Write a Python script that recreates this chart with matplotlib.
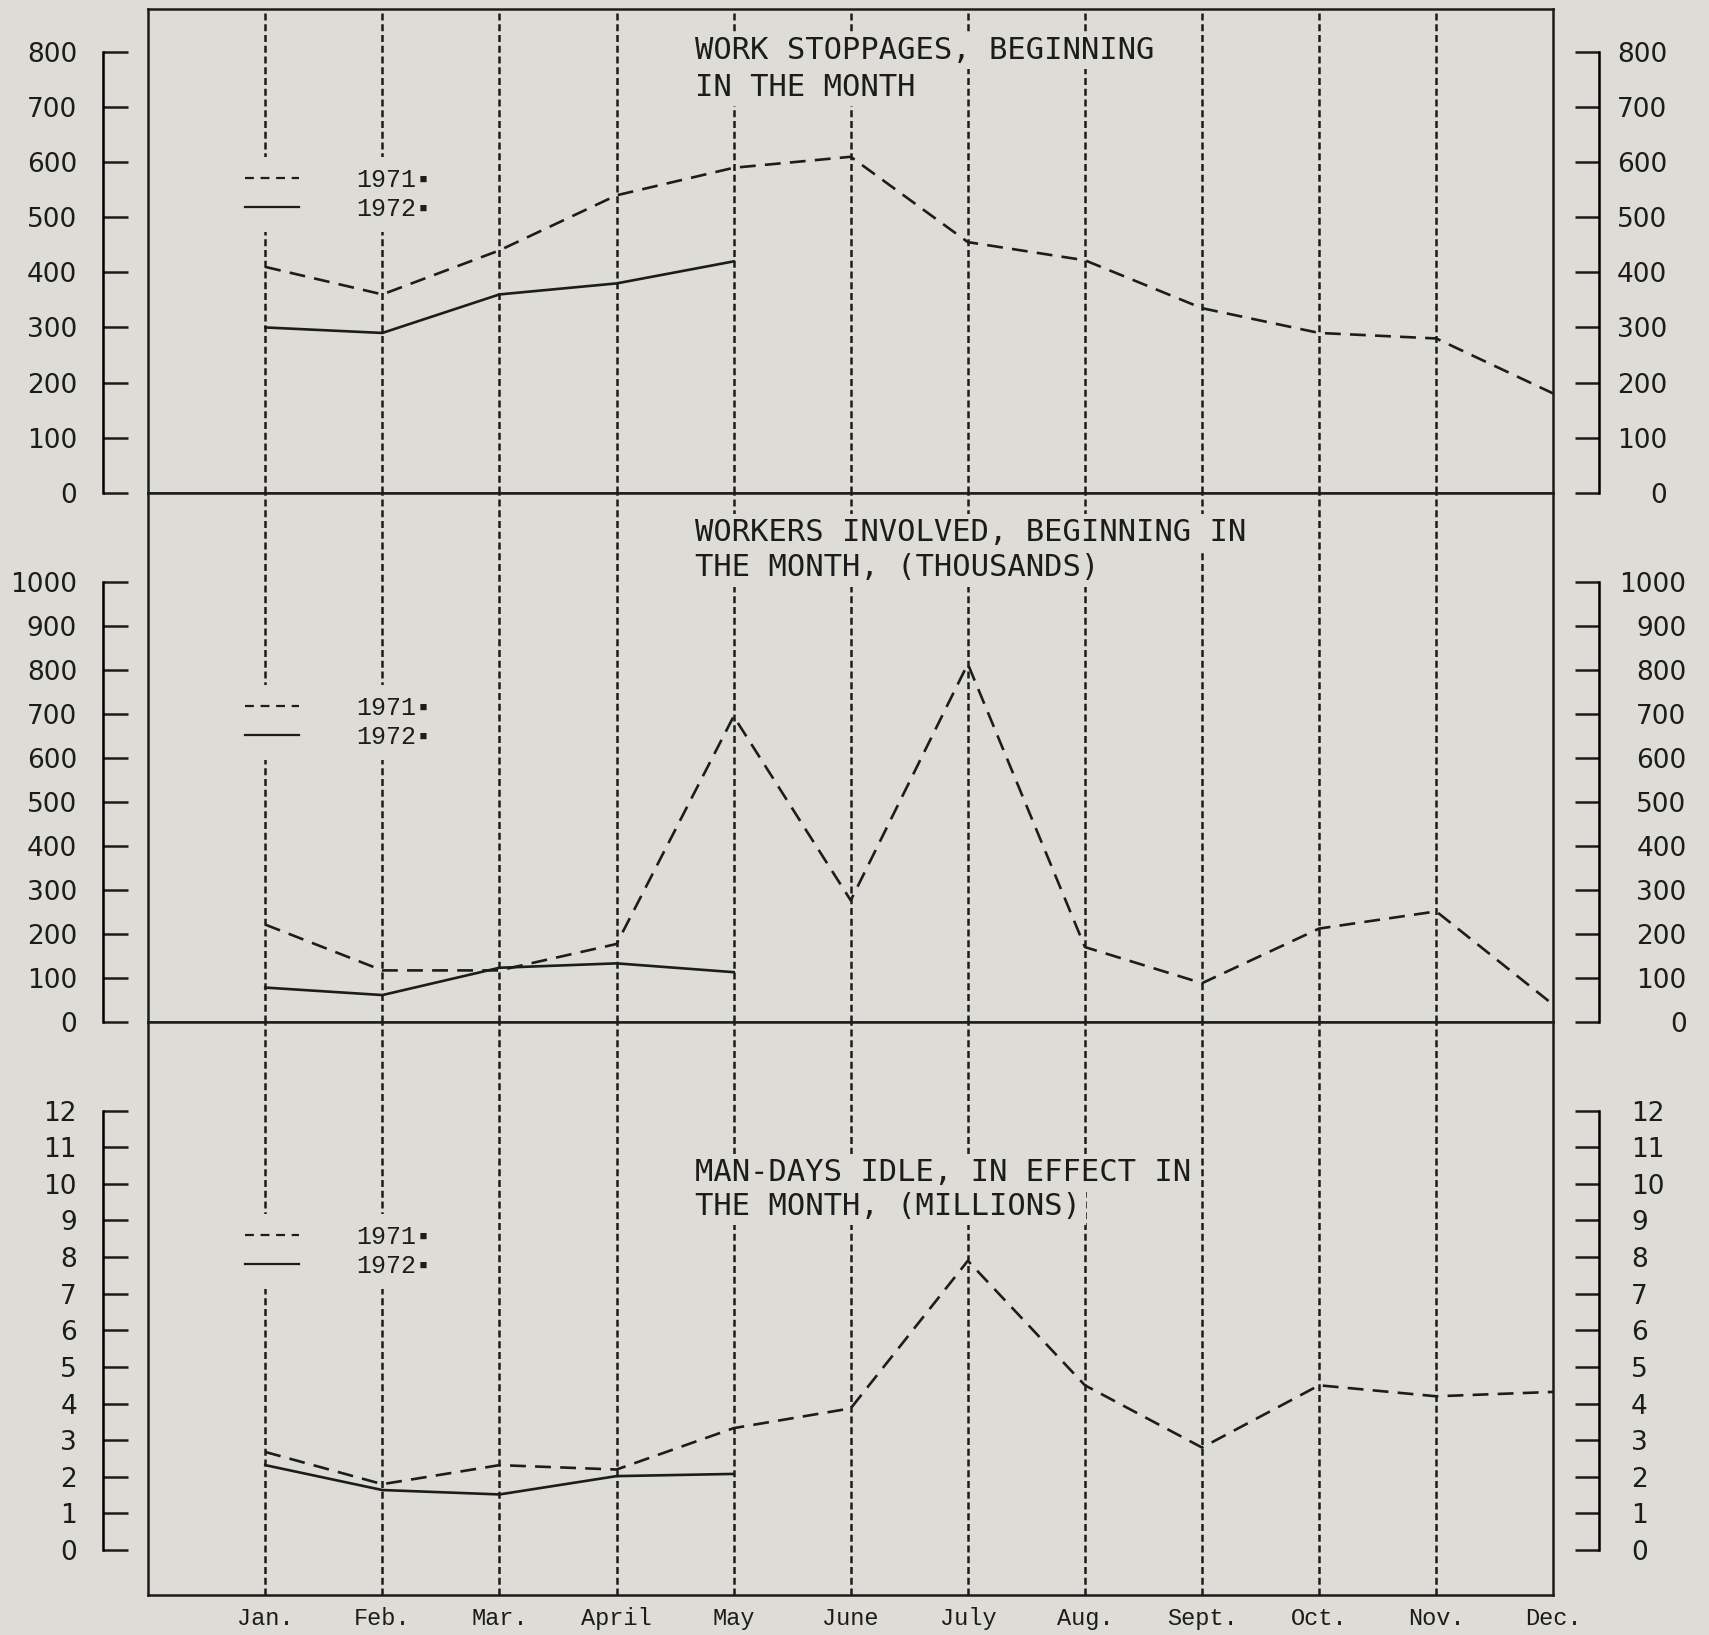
import numpy as np
import matplotlib.pyplot as plt
from matplotlib.lines import Line2D
from matplotlib.font_manager import FontProperties

BG = '#dddcd6'
INK = '#1c1c1c'

months = ['Jan.', 'Feb.', 'Mar.', 'April', 'May', 'June', 'July',
          'Aug.', 'Sept.', 'Oct.', 'Nov.', 'Dec.']

# values (1972 only runs through May)
stoppages_1971 = [410, 360, 440, 540, 590, 610, 455, 422, 335, 290, 280, 180]
stoppages_1972 = [300, 290, 360, 380, 420]
workers_1971 = [222, 118, 118, 178, 695, 277, 814, 171, 89, 213, 252, 40]
workers_1972 = [79, 62, 124, 134, 114]
mandays_1971 = [2.68, 1.8, 2.32, 2.2, 3.33, 3.87, 7.9, 4.5, 2.8, 4.5, 4.2, 4.32]
mandays_1972 = [2.32, 1.64, 1.52, 2.02, 2.08]

stoppage_ticks = list(range(0, 900, 100))
worker_ticks = list(range(0, 1100, 100))
manday_ticks = list(range(0, 13))

titles = [
    ['WORK STOPPAGES, BEGINNING', 'IN THE MONTH'],
    ['WORKERS INVOLVED, BEGINNING IN', 'THE MONTH, (THOUSANDS)'],
    ['MAN-DAYS IDLE, IN EFFECT IN', 'THE MONTH, (MILLIONS)'],
]
legend_labels = ['1971\u25aa', '1972\u25aa']

fig = plt.figure(figsize=(17.09, 16.35), dpi=100, facecolor=BG)

left, width = 0.0867, 0.8222
panels = [
    # axes rect, ylim, ticks, title line y (axes frac), legend y, right label style
    dict(rect=[left, 0.6987, width, 0.2960], ylim=(0, 879), ticks=stoppage_ticks,
         y71=stoppages_1971, y72=stoppages_1972, title_y=(0.914, 0.838),
         leg_y=0.616, rpad=49, rha='right'),
    dict(rect=[left, 0.3747, width, 0.3240], ylim=(0, 1203), ticks=worker_ticks,
         y71=workers_1971, y72=workers_1972, title_y=(0.924, 0.858),
         leg_y=0.566, rpad=63, rha='right'),
    dict(rect=[left, 0.0246, width, 0.3501], ylim=(-1.22, 14.41), ticks=manday_ticks,
         y71=mandays_1971, y72=mandays_1972, title_y=(0.737, 0.678),
         leg_y=0.600, rpad=23, rha='left'),
]

tick_font = FontProperties(family='DejaVu Sans', size=19)
title_font = FontProperties(family='DejaVu Sans Mono', size=22)
leg_font = FontProperties(family=['Liberation Mono', 'DejaVu Sans Mono', 'DejaVu Sans'], size=18)
month_font = FontProperties(family='Liberation Mono', size=17)

dash71 = (0, (6, 3.5))

for n, p in enumerate(panels):
    ax = fig.add_axes(p['rect'])
    ax.set_facecolor(BG)
    ax.set_xlim(-1, 11)
    ax.set_ylim(*p['ylim'])
    ax.set_yticks([])
    for s in ax.spines.values():
        s.set_linewidth(1.8)
        s.set_color(INK)

    # dotted month guides (Dec sits on the frame)
    for i in range(11):
        ax.axvline(i, color=INK, lw=1.8, ls=(0, (2.8, 1.5)), zorder=1)

    ax.plot(np.arange(len(p['y71'])), p['y71'], color=INK, lw=1.9, ls=dash71, zorder=4)
    ax.plot(np.arange(len(p['y72'])), p['y72'], color=INK, lw=1.9, zorder=4)

    for line, ty in zip(titles[n], p['title_y']):
        ax.text(0.3895, ty, line, transform=ax.transAxes, fontproperties=title_font,
                color=INK, ha='left', va='center', zorder=3,
                bbox=dict(facecolor=BG, edgecolor='none', pad=3))

    handles = [Line2D([], [], color=INK, lw=1.6, ls=(0, (4, 3))),
               Line2D([], [], color=INK, lw=1.6)]
    leg = ax.legend(handles, legend_labels, loc='center left',
                    bbox_to_anchor=(0.061, p['leg_y']), prop=leg_font,
                    frameon=True, fancybox=False, facecolor=BG, edgecolor='none',
                    framealpha=1, handlelength=2.15, handletextpad=2.3,
                    labelspacing=0.2, borderpad=0.45, borderaxespad=0)
    leg.set_zorder(3)
    for t in leg.get_texts():
        t.set_color(INK)

    # bracket scales on both sides
    top = p['ticks'][-1]
    lax = ax.secondary_yaxis(-0.0318)
    lax.set_yticks(p['ticks'])
    lax.spines['left'].set_bounds(0, top)
    lax.spines['left'].set_linewidth(1.8)
    lax.tick_params(direction='in', length=18, width=1.8, pad=19, colors=INK)
    for lbl in lax.get_yticklabels():
        lbl.set_fontproperties(tick_font)

    rax = ax.secondary_yaxis(1.0326)
    rax.set_yticks(p['ticks'])
    rax.spines['right'].set_bounds(0, top)
    rax.spines['right'].set_linewidth(1.8)
    rax.tick_params(direction='in', length=17, width=1.8, pad=p['rpad'], colors=INK)
    for lbl in rax.get_yticklabels():
        lbl.set_fontproperties(tick_font)
        lbl.set_horizontalalignment(p['rha'])

    if n == 2:
        ax.set_xticks(range(12))
        ax.set_xticklabels(months, fontproperties=month_font, color=INK)
        ax.tick_params(axis='x', length=0, pad=9)
    else:
        ax.set_xticks([])

fig.savefig('out.png', dpi=100, facecolor=BG)
